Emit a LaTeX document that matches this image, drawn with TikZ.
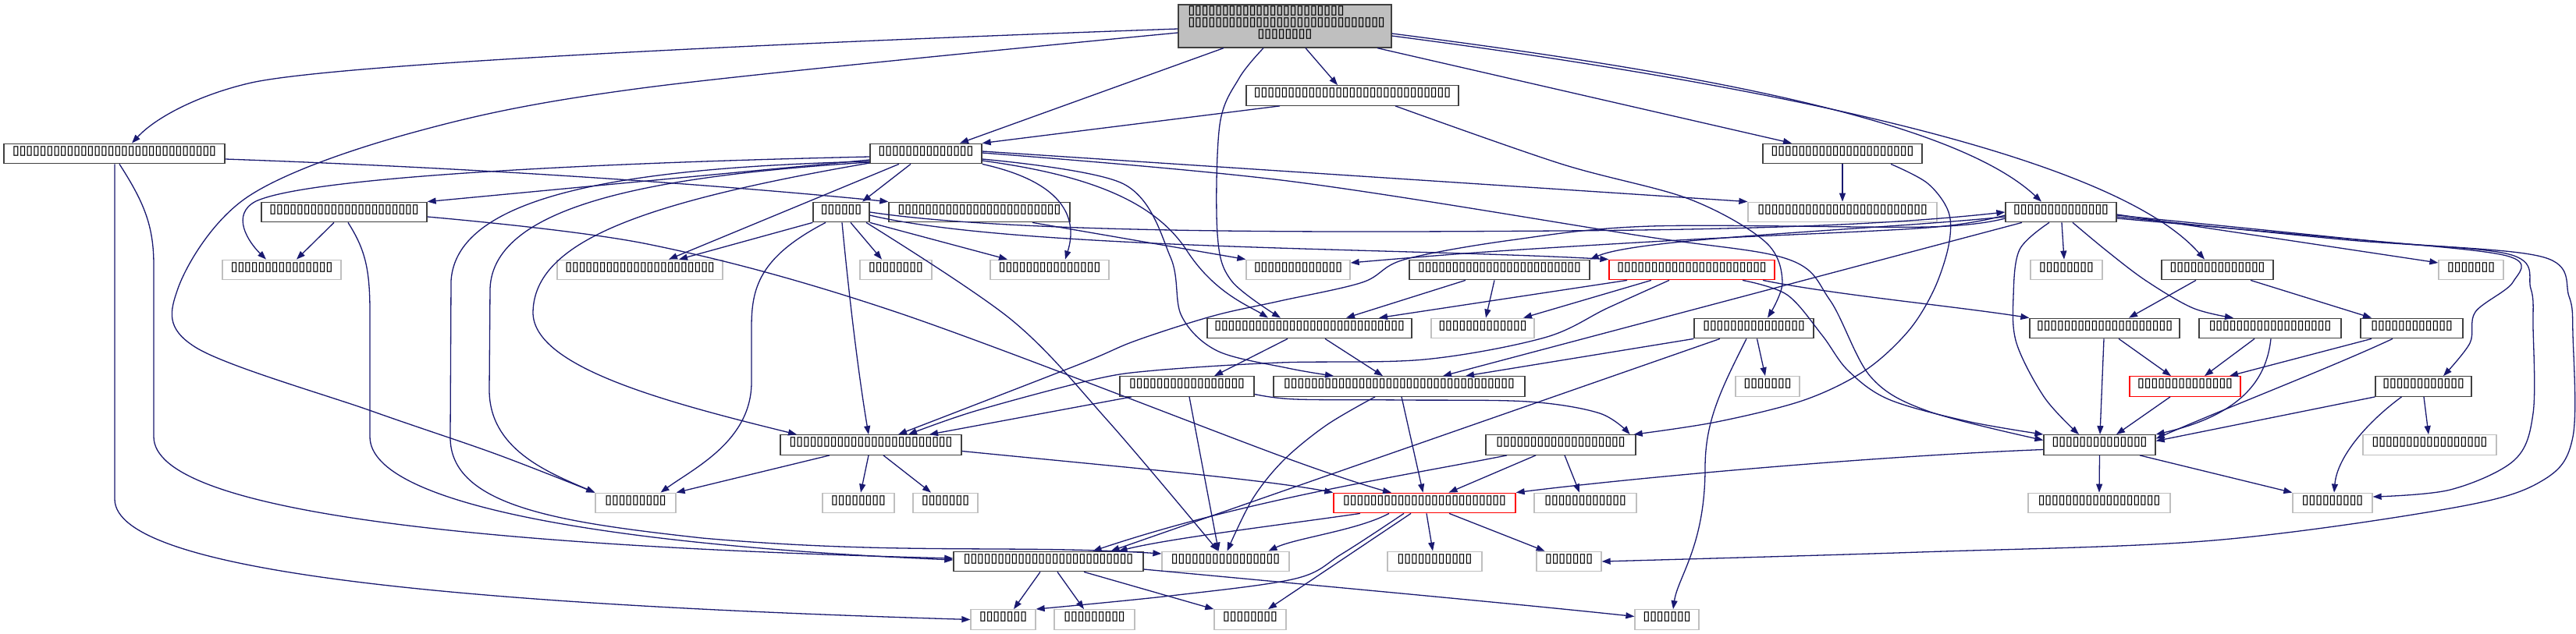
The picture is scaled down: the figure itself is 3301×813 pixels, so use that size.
\documentclass[tikz,border=0pt]{standalone}
\usepackage{fontspec}
\usetikzlibrary{arrows.meta}
\newfontfamily\gf{DejaVu Sans Mono}[LetterSpace=-19]
\definecolor{ec}{HTML}{191970}
\definecolor{bd}{HTML}{404040}
\definecolor{gb}{HTML}{BFBFBF}
\definecolor{rb}{HTML}{FF0000}
\definecolor{topfill}{HTML}{BFBFBF}
\tikzset{
  base/.style={line width=1.3pt, fill=white, minimum height=25.5pt, inner sep=0pt, font=\gf\fontsize{21.1pt}{15pt}\selectfont},
  tx/.style={text height=4.3pt, text depth=0pt},
  box/.style={base, tx, draw=bd},
  gbox/.style={base, tx, draw=gb},
  rbox/.style={base, tx, draw=rb},
  topbox/.style={base, draw=bd, fill=topfill, minimum height=55pt, text height=33pt, text depth=0pt},
  lnk/.style={draw=ec, line width=1.3pt, -{Triangle[length=11pt,width=8pt]}},
}
\begin{document}
\begin{tikzpicture}[x=1pt,y=-1pt]
\fill[white] (0,0) rectangle (3301,813);
\useasboundingbox (0,0) rectangle (3301,813);
% row A
\node[topbox, minimum width=273pt] (N0) at (1646.5,33.5) {\vbox{\baselineskip=15pt\lineskiplimit=-100pt\lineskip=0pt
\hbox to 252pt{▯▯▯▯▯▯▯▯▯▯▯▯▯▯▯▯▯▯▯▯▯▯▯\hss}
\hbox to 252pt{▯▯▯▯▯▯▯▯▯▯▯▯▯▯▯▯▯▯▯▯▯▯▯▯▯▯▯▯▯\hss}
\hbox to 252pt{\hss▯▯▯▯▯▯▯▯\hss}}};
% row B
\node[box, minimum width=272pt] (B1) at (1733,122.5) {▯▯▯▯▯▯▯▯▯▯▯▯▯▯▯▯▯▯▯▯▯▯▯▯▯▯▯▯▯};
% row C
\node[box, minimum width=283pt] (C1) at (146.5,197) {▯▯▯▯▯▯▯▯▯▯▯▯▯▯▯▯▯▯▯▯▯▯▯▯▯▯▯▯▯▯};
\node[box, minimum width=143pt] (C2) at (1186.5,197) {▯▯▯▯▯▯▯▯▯▯▯▯▯▯};
\node[box, minimum width=204pt] (C3) at (2361,197) {▯▯▯▯▯▯▯▯▯▯▯▯▯▯▯▯▯▯▯▯▯};
% row D
\node[box, minimum width=212pt] (D1) at (441,272) {▯▯▯▯▯▯▯▯▯▯▯▯▯▯▯▯▯▯▯▯▯▯};
\node[box, minimum width=72pt] (D2) at (1078,272) {▯▯▯▯▯▯};
\node[box, minimum width=232pt] (D3) at (1255,272) {▯▯▯▯▯▯▯▯▯▯▯▯▯▯▯▯▯▯▯▯▯▯▯▯};
\node[gbox, minimum width=242pt] (D4) at (2361,272) {▯▯▯▯▯▯▯▯▯▯▯▯▯▯▯▯▯▯▯▯▯▯▯▯▯};
\node[box, minimum width=142pt] (D5) at (2641,272) {▯▯▯▯▯▯▯▯▯▯▯▯▯▯};
% row E
\node[gbox, minimum width=152pt] (E1) at (361,346) {▯▯▯▯▯▯▯▯▯▯▯▯▯▯▯};
\node[gbox, minimum width=212pt] (E2) at (820,346) {▯▯▯▯▯▯▯▯▯▯▯▯▯▯▯▯▯▯▯▯▯▯};
\node[gbox, minimum width=92pt] (E3) at (1148,346) {▯▯▯▯▯▯▯▯};
\node[gbox, minimum width=152pt] (E4) at (1345,346) {▯▯▯▯▯▯▯▯▯▯▯▯▯▯▯};
\node[gbox, minimum width=133pt] (E5) at (1663.5,346) {▯▯▯▯▯▯▯▯▯▯▯▯▯};
\node[box, minimum width=231pt] (E6) at (1921.5,346) {▯▯▯▯▯▯▯▯▯▯▯▯▯▯▯▯▯▯▯▯▯▯▯▯};
\node[rbox, minimum width=212pt] (E7) at (2168,346) {▯▯▯▯▯▯▯▯▯▯▯▯▯▯▯▯▯▯▯▯▯▯};
\node[gbox, minimum width=92pt] (E8) at (2648,346) {▯▯▯▯▯▯▯▯};
\node[box, minimum width=143pt] (E9) at (2841.5,346) {▯▯▯▯▯▯▯▯▯▯▯▯▯▯};
\node[gbox, minimum width=83pt] (E10) at (3166.5,346) {▯▯▯▯▯▯▯};
% row F
\node[box, minimum width=262pt] (F1) at (1678,421) {▯▯▯▯▯▯▯▯▯▯▯▯▯▯▯▯▯▯▯▯▯▯▯▯▯▯▯▯};
\node[gbox, minimum width=132pt] (F2) at (1900,421) {▯▯▯▯▯▯▯▯▯▯▯▯▯};
\node[box, minimum width=153pt] (F3) at (2247.5,421) {▯▯▯▯▯▯▯▯▯▯▯▯▯▯▯};
\node[box, minimum width=192pt] (F4) at (2697,421) {▯▯▯▯▯▯▯▯▯▯▯▯▯▯▯▯▯▯▯▯};
\node[box, minimum width=182pt] (F5) at (2909,421) {▯▯▯▯▯▯▯▯▯▯▯▯▯▯▯▯▯▯};
\node[box, minimum width=131pt] (F6) at (3090.5,421) {▯▯▯▯▯▯▯▯▯▯▯▯};
% row G
\node[box, minimum width=172pt] (G1) at (1521,495.5) {▯▯▯▯▯▯▯▯▯▯▯▯▯▯▯▯▯};
\node[box, minimum width=322pt] (G2) at (1793,495.5) {▯▯▯▯▯▯▯▯▯▯▯▯▯▯▯▯▯▯▯▯▯▯▯▯▯▯▯▯▯▯▯▯▯▯};
\node[gbox, minimum width=82pt] (G3) at (2265,495.5) {▯▯▯▯▯▯▯};
\node[rbox, minimum width=142pt] (G4) at (2800,495.5) {▯▯▯▯▯▯▯▯▯▯▯▯▯▯};
\node[box, minimum width=123pt] (G5) at (3105.5,495.5) {▯▯▯▯▯▯▯▯▯▯▯▯};
% row H
\node[box, minimum width=232pt] (H1) at (1116,570.5) {▯▯▯▯▯▯▯▯▯▯▯▯▯▯▯▯▯▯▯▯▯▯▯▯};
\node[box, minimum width=192pt] (H2) at (2000,570.5) {▯▯▯▯▯▯▯▯▯▯▯▯▯▯▯▯▯▯▯};
\node[box, minimum width=143pt] (H3) at (2690.5,570.5) {▯▯▯▯▯▯▯▯▯▯▯▯▯▯};
\node[gbox, minimum width=171pt] (H4) at (3113.5,570.5) {▯▯▯▯▯▯▯▯▯▯▯▯▯▯▯▯▯};
% row I
\node[gbox, minimum width=103pt] (I1) at (814.5,645) {▯▯▯▯▯▯▯▯▯};
\node[gbox, minimum width=92pt] (I2) at (1100,645) {▯▯▯▯▯▯▯▯};
\node[gbox, minimum width=83pt] (I3) at (1211.5,645) {▯▯▯▯▯▯▯};
\node[rbox, minimum width=233pt] (I4) at (1825.5,645) {▯▯▯▯▯▯▯▯▯▯▯▯▯▯▯▯▯▯▯▯▯▯▯▯};
\node[gbox, minimum width=131pt] (I5) at (2031.5,645) {▯▯▯▯▯▯▯▯▯▯▯▯};
\node[gbox, minimum width=182pt] (I6) at (2690,645) {▯▯▯▯▯▯▯▯▯▯▯▯▯▯▯▯▯▯};
\node[gbox, minimum width=102pt] (I7) at (2989,645) {▯▯▯▯▯▯▯▯▯};
% row J
\node[box, minimum width=243pt] (J1) at (1343.5,720) {▯▯▯▯▯▯▯▯▯▯▯▯▯▯▯▯▯▯▯▯▯▯▯▯▯};
\node[gbox, minimum width=163pt] (J2) at (1570.5,720) {▯▯▯▯▯▯▯▯▯▯▯▯▯▯▯▯};
\node[gbox, minimum width=121pt] (J3) at (1838.5,720) {▯▯▯▯▯▯▯▯▯▯▯};
\node[gbox, minimum width=83pt] (J4) at (2010.5,720) {▯▯▯▯▯▯▯};
% row K
\node[gbox, minimum width=83pt] (K1) at (1285.5,794.5) {▯▯▯▯▯▯▯};
\node[gbox, minimum width=103pt] (K2) at (1402.5,794.5) {▯▯▯▯▯▯▯▯▯};
\node[gbox, minimum width=92pt] (K3) at (1602,794.5) {▯▯▯▯▯▯▯▯};
\node[gbox, minimum width=82pt] (K4) at (2136,794.5) {▯▯▯▯▯▯▯};

% ---- edges from N0
\draw[lnk] ([yshift=-3.5pt]N0.west) .. controls (1000,55) and (420,82) .. (318,107) .. controls (255,122) and (200,150) .. ([xshift=22.5pt]C1.north);
\draw[lnk] plot[smooth,tension=0.55] coordinates {([yshift=-8.5pt]N0.west) (830,112) (529,170) (318,252) (228,370) (250,445) (476,527) (635,582) (I1.north west)};
\draw[lnk] ([xshift=-78.5pt]N0.south) -- ([xshift=43.5pt]C2.north);
\draw[lnk] plot[smooth,tension=0.55] coordinates {([xshift=-27.5pt]N0.south) (1588,100) (1563,160) (1560,300) (1578,360) ([xshift=-37pt]F1.north)};
\draw[lnk] ([xshift=26.5pt]N0.south) -- ([xshift=-19pt]B1.north);
\draw[lnk] ([xshift=118.5pt]N0.south) -- ([xshift=-65pt]C3.north);
\draw[lnk] ([yshift=-9.5pt]N0.east) .. controls (2150,90) and (2500,150) .. ([xshift=-25pt]D5.north);
\draw[lnk] ([yshift=-12.5pt]N0.east) .. controls (2200,100) and (2700,190) .. ([xshift=-16.5pt]E9.north);
% B1
\draw[lnk] ([xshift=-93pt]B1.south) -- (C2.north east);
\draw[lnk] plot[smooth,tension=0.55] coordinates {([xshift=55pt]B1.south) (2000,210) (2164,255) (2262,310) (2284,362) ([xshift=17.5pt]F3.north)};
% C1
\draw[lnk] ([yshift=-7pt]C1.east) .. controls (600,215) and (900,235) .. (D3.north west);
\draw[lnk] ([xshift=0.5pt]C1.south) -- (147,640) .. controls (147,735) and (600,775) .. (K1.west);
\draw[lnk] ([xshift=6.5pt]C1.south) .. controls (185,260) and (197,290) .. (197,340) -- (197,560) .. controls (197,655) and (600,700) .. ([yshift=4pt]J1.west);
% C2
\draw[lnk] ([xshift=-19.5pt]C2.south) -- ([xshift=27pt]D2.north);
\draw[lnk] ([xshift=-34.5pt]C2.south) -- ([xshift=37pt]E2.north);
\draw[lnk] ([yshift=-4pt]C2.west) .. controls (800,208) and (400,225) .. (328,258) .. controls (295,275) and (318,310) .. ([xshift=-20pt]E1.north);
\draw[lnk] ([yshift=-8pt]C2.west) -- (D1.north east);
\draw[lnk] ([yshift=-10pt]C2.west) .. controls (800,215) and (585,250) .. (578,360) -- (577,560) .. controls (576,650) and (720,670) .. (900,690) .. controls (1150,712) and (1300,698) .. ([yshift=10pt]J2.west);
\draw[lnk] ([yshift=-11pt]C2.west) .. controls (850,225) and (632,260) .. (628,370) -- (627,500) .. controls (627,575) and (700,605) .. (I1.north west);
\draw[lnk] ([yshift=-12pt]C2.west) .. controls (820,260) and (685,310) .. (683,400) .. controls (682,470) and (850,515) .. ([xshift=-95pt]H1.north);
\draw[lnk] (C2.south east) .. controls (1370,235) and (1380,285) .. ([xshift=20pt]E4.north);
\draw[lnk] ([yshift=-9pt]C2.east) .. controls (1400,225) and (1480,260) .. (1520,320) .. controls (1555,375) and (1600,392) .. ([xshift=-53pt]F1.north);
\draw[lnk] plot[smooth,tension=0.55] coordinates {([yshift=-7pt]C2.east) (1440,236) (1500,330) (1514,405) (1560,450) (1650,472) ([xshift=-84pt]G2.north)};
\draw[lnk] ([yshift=3pt]C2.east) -- (D4.north west);
\draw[lnk] plot[smooth,tension=0.55] coordinates {([yshift=1pt]C2.east) (1650,232) (2100,302) (2290,332) (2345,385) (2397,483) (2470,527) ([yshift=6pt]H3.west)};
% C3
\draw[lnk] (C3.south) -- (D4.north);
\draw[lnk] plot[smooth,tension=0.55] coordinates {([xshift=62pt]C3.south) (2470,235) (2497,272) (2497,315) (2478,372) (2445,425) (2390,475) (2312,513) (2200,541) ([xshift=-3pt]H2.north east)};
% D1
\draw[lnk] ([xshift=-13pt]D1.south) -- ([xshift=19pt]E1.north);
\draw[lnk] ([xshift=5pt]D1.south) .. controls (468,320) and (474,345) .. (474,400) -- (474,560) .. controls (474,650) and (800,700) .. ([yshift=2pt]J1.west);
\draw[lnk] plot[smooth,tension=0.55] coordinates {([yshift=-6pt]D1.east) (830,313) (1148,400) (1650,588) ([xshift=-42.5pt]I4.north)};
% D2
\draw[lnk] (D2.south west) -- ([xshift=50pt]E2.north);
\draw[lnk] ([xshift=12pt]D2.south) -- ([xshift=-18pt]E3.north);
\draw[lnk] (D2.south east) -- ([xshift=-54pt]E4.north);
\draw[lnk] ([xshift=-20pt]D2.south) .. controls (972,330) and (963,370) .. (963,420) -- (963,490) .. controls (963,565) and (890,600) .. ([xshift=32pt]I1.north);
\draw[lnk] ([xshift=1pt]D2.south) .. controls (1088,380) and (1100,480) .. ([xshift=-3pt]H1.north);
\draw[lnk] plot[smooth,tension=0.55] coordinates {([xshift=32pt]D2.south) (1296,410) (1420,540) ([xshift=-9.5pt]J2.north)};
\draw[lnk] ([yshift=-4pt]D2.east) .. controls (1300,320) and (1800,318) .. (E7.north west);
\draw[lnk] (D2.east) .. controls (1300,300) and (1700,298) .. (2000,296) .. controls (2300,294) and (2450,285) .. (D5.west);
% D3
\draw[lnk] ([xshift=68pt]D3.south) -- (E5.north west);
% D5
\draw[lnk] plot[smooth,tension=0.55] coordinates {([yshift=-4pt]D5.west) (2470,292) (2169,307) (1905,323) ([yshift=9pt]E5.east)};
\draw[lnk] ([yshift=-6pt]D5.west) .. controls (2400,295) and (2100,305) .. (E6.north east);
\draw[lnk] plot[smooth,tension=0.55] coordinates {([yshift=-8pt]D5.west) (2470,291) (2116,290) (1936,308) (1799,333) (1746,362) (1640,386) (1555,405) (1455,437) (1381,468) ([xshift=35pt]H1.north)};
\draw[lnk] plot[smooth,tension=0.55] coordinates {([xshift=-15pt]D5.south) (2588,320) (2580,380) (2584,440) (2620,510) ([xshift=-26.5pt]H3.north)};
\draw[lnk] ([xshift=1pt]D5.south) -- ([xshift=-3pt]E8.north);
\draw[lnk] plot[smooth,tension=0.55] coordinates {([xshift=15pt]D5.south) (2700,322) (2750,360) (2810,395) ([xshift=-47pt]F5.north)};
\draw[lnk] ([yshift=-3pt]D5.east) -- ([yshift=9pt]E10.west);
\draw[lnk] plot[smooth,tension=0.55] coordinates {([yshift=-4pt]D5.east) (3000,305) (3212,328) (3220,362) (3172,400) (3165,440) ([xshift=25.5pt]G5.north)};
\draw[lnk] plot[smooth,tension=0.55] coordinates {([yshift=-6pt]D5.east) (3000,307) (3215,326) (3243,370) (3246,420) (3246,530) (3222,590) (3140,628) ([yshift=8pt]I7.east)};
\draw[lnk] plot[smooth,tension=0.55] coordinates {([yshift=-8pt]D5.east) (3050,310) (3260,330) (3292,380) (3297,430) (3297,560) (3260,615) (3150,650) (2836,693) (2460,708) (J4.east)};
\draw[lnk] ([xshift=-50pt]D5.south) -- ([xshift=56pt]G2.north);
% E row
\draw[lnk] ([xshift=-43.5pt]E6.south) -- ([xshift=47pt]F1.north);
\draw[lnk] ([xshift=-6.5pt]E6.south) -- ([xshift=4pt]F2.north);
\draw[lnk] ([xshift=-83pt]E7.south) -- ([xshift=89pt]F1.north);
\draw[lnk] ([xshift=-52pt]E7.south) -- ([xshift=52pt]F2.north);
\draw[lnk] plot[smooth,tension=0.55] coordinates {([xshift=-29pt]E7.south) (2060,395) (1979,433) (1825,461) (1640,465) (1480,475) (1400,487) (1250,527) ([xshift=48pt]H1.north)};
\draw[lnk] ([xshift=91pt]E7.south) .. controls (2350,378) and (2500,392) .. (F4.north west);
\draw[lnk] plot[smooth,tension=0.55] coordinates {([xshift=65pt]E7.south) (2290,378) (2335,430) (2368,475) (2420,512) (2520,540) (H3.north west)};
\draw[lnk] ([xshift=-27.5pt]E9.south) -- ([xshift=31pt]F4.north);
\draw[lnk] ([xshift=42.5pt]E9.south) -- ([xshift=-51.5pt]F6.north);
% F row
\draw[lnk] ([xshift=-28pt]F1.south) -- ([xshift=35pt]G1.north);
\draw[lnk] ([xshift=20pt]F1.south) -- ([xshift=-21pt]G2.north);
\draw[lnk] (F3.south west) -- ([xshift=85pt]G2.north);
\draw[lnk] ([xshift=-43.5pt]F3.south) -- ([xshift=80pt]J1.north);
\draw[lnk] ([xshift=-9.5pt]F3.south) .. controls (2205,500) and (2185,540) .. (2185,600) .. controls (2185,700) and (2150,740) .. ([xshift=8pt]K4.north);
\draw[lnk] ([xshift=4pt]F3.south) -- ([xshift=-3pt]G3.north);
\draw[lnk] ([xshift=-1pt]F4.south) -- ([xshift=0.5pt]H3.north);
\draw[lnk] ([xshift=18pt]F4.south) -- ([xshift=-18pt]G4.north);
\draw[lnk] ([xshift=-20pt]F5.south) -- ([xshift=25pt]G4.north);
\draw[lnk] ([xshift=1pt]F5.south) .. controls (2905,480) and (2880,530) .. (H3.north east);
\draw[lnk] ([xshift=-51.5pt]F6.south) -- ([xshift=57pt]G4.north);
\draw[lnk] ([xshift=-24.5pt]F6.south) .. controls (2990,470) and (2860,520) .. ([yshift=8pt]H3.east);
% G row
\draw[lnk] ([xshift=-19pt]G4.south) -- ([xshift=21.5pt]H3.north);
\draw[lnk] (G5.south west) -- ([yshift=5pt]H3.east);
\draw[lnk] ([xshift=-28pt]G5.south) .. controls (3035,540) and (2995,585) .. ([xshift=2pt]I7.north);
\draw[lnk] ([xshift=0.5pt]G5.south) -- ([xshift=-1.5pt]H4.north);
\draw[lnk] ([xshift=-71pt]G1.south) -- ([xshift=75pt]H1.north);
\draw[lnk] ([xshift=3pt]G1.south) -- ([xshift=-9pt]J2.north);
\draw[lnk] plot[smooth,tension=0.55] coordinates {([yshift=-10pt]G1.east) (1660,512) (1800,513) (1958,515) (2050,530) ([xshift=-8pt]H2.north east)};
\draw[lnk] plot[smooth,tension=0.55] coordinates {([xshift=-31pt]G2.south) (1700,545) (1645,590) (1605,640) ([xshift=2pt]J2.north)};
\draw[lnk] ([xshift=3pt]G2.south) -- ([xshift=-2pt]I4.north);
% H row
\draw[lnk] ([xshift=-53pt]H1.south) -- (I1.north east);
\draw[lnk] ([xshift=-3pt]H1.south) -- ([xshift=3pt]I2.north);
\draw[lnk] ([xshift=16pt]H1.south) -- ([xshift=-18.5pt]I3.north);
\draw[lnk] ([yshift=-8pt]H1.east) .. controls (1450,600) and (1620,615) .. (I4.north west);
\draw[lnk] ([xshift=-69pt]H2.south) .. controls (1800,610) and (1600,640) .. ([xshift=57pt]J1.north);
\draw[lnk] ([xshift=-32pt]H2.south) -- ([xshift=31pt]I4.north);
\draw[lnk] ([xshift=5pt]H2.south) -- ([xshift=-7.5pt]I5.north);
\draw[lnk] (H3.south) -- (I6.north);
\draw[lnk] ([xshift=51.5pt]H3.south) -- (I7.north west);
\draw[lnk] ([yshift=-6pt]H3.west) .. controls (2400,585) and (2100,612) .. (I4.north east);
% I row
\draw[lnk] ([xshift=-82.5pt]I4.south) .. controls (1650,672) and (1500,690) .. ([xshift=90pt]J1.north);
\draw[lnk] ([xshift=-45.5pt]I4.south) .. controls (1740,680) and (1660,690) .. ([xshift=55pt]J2.north);
\draw[lnk] plot[smooth,tension=0.55] coordinates {([xshift=-26.5pt]I4.south) (1720,710) (1660,742) (1500,764) (K1.north east)};
\draw[lnk] ([xshift=-17.5pt]I4.south) -- ([xshift=23pt]K3.north);
\draw[lnk] ([xshift=2.5pt]I4.south) -- ([xshift=-2.5pt]J3.north);
\draw[lnk] ([xshift=31.5pt]I4.south) -- ([xshift=-31pt]J4.north);
% J row
\draw[lnk] ([xshift=-10.5pt]J1.south) -- ([xshift=13.5pt]K1.north);
\draw[lnk] ([xshift=11.5pt]J1.south) -- ([xshift=-13.5pt]K2.north);
\draw[lnk] ([xshift=45.5pt]J1.south) -- (K3.north west);
\draw[lnk] ([yshift=-10pt]J1.east) .. controls (1700,752) and (1950,775) .. ([yshift=4pt]K4.west);
\end{tikzpicture}
\end{document}
